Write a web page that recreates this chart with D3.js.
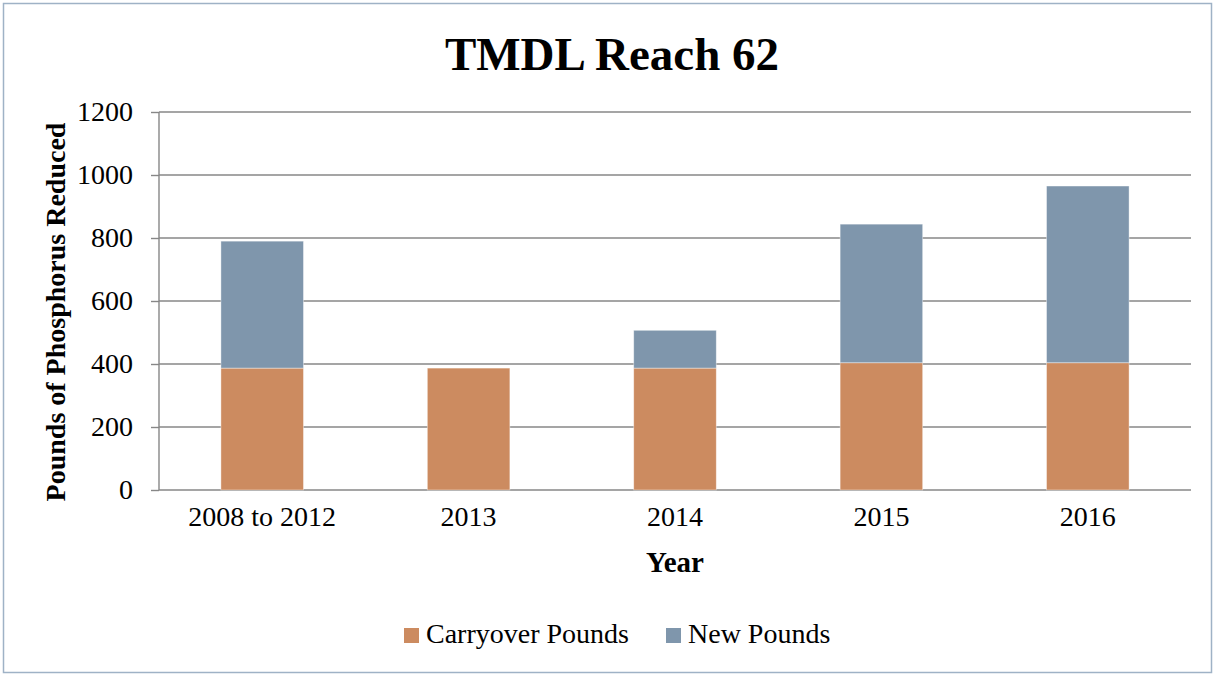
<!DOCTYPE html>
<html>
<head>
<meta charset="utf-8">
<script src="https://cdn.jsdelivr.net/npm/d3@7"></script>
<style>
  body { margin: 0; background: #fff; }
  svg text { font-family: "Liberation Serif", "DejaVu Serif", serif; fill: #000; }
</style>
</head>
<body>
<div id="chart"></div>
<script>
// data
const years = ["2008 to 2012", "2013", "2014", "2015", "2016"];
const carryover = [387, 387, 387, 404, 404];
const newPounds = [403, 0, 120, 440, 561];
const seriesNames = ["Carryover Pounds", "New Pounds"];
const yTicks = [0, 200, 400, 600, 800, 1000, 1200];

const colors = { "Carryover Pounds": "#cc8b60", "New Pounds": "#7f96ac" };

const W = 1215, H = 676;
const margin = { top: 112, right: 24, bottom: 186, left: 159 };
const width = W - margin.left - margin.right;
const height = H - margin.top - margin.bottom;

const svg = d3.select("#chart").append("svg")
    .attr("width", W)
    .attr("height", H);

// outer frame
svg.append("rect")
    .attr("x", 3.5).attr("y", 3.5)
    .attr("width", W - 7).attr("height", H - 7)
    .attr("fill", "#fff")
    .attr("stroke", "#9fb2c6")
    .attr("stroke-width", 1.5);

svg.append("text")
    .attr("x", 612).attr("y", 70)
    .attr("text-anchor", "middle")
    .style("font-size", "47px")
    .style("font-weight", "bold")
    .text("TMDL Reach 62");

const g = svg.append("g")
    .attr("transform", `translate(${margin.left}, ${margin.top})`);

const rows = years.map((y, i) => ({
    year: y,
    "Carryover Pounds": carryover[i],
    "New Pounds": newPounds[i]
}));

const x = d3.scaleBand()
    .domain(years)
    .range([0, width])
    .paddingInner(0.6)
    .paddingOuter(0.3);

const y = d3.scaleLinear()
    .domain([0, 1200])
    .range([height, 0]);

// y axis ticks and labels
const yAxis = g.append("g")
    .call(d3.axisLeft(y).tickValues(yTicks).tickFormat(d3.format("d")).tickSize(8).tickPadding(18));
yAxis.select(".domain").remove();
yAxis.selectAll(".tick line").attr("stroke", "#878787").attr("stroke-width", 1.4);
yAxis.selectAll(".tick text")
    .style("font-size", "28px")
    .style("font-family", "Liberation Serif, serif");

// gridlines
g.append("g")
    .selectAll("line")
    .data(yTicks)
    .join("line")
    .attr("x1", 0).attr("x2", width)
    .attr("y1", d => y(d)).attr("y2", d => y(d))
    .attr("stroke", "#878787")
    .attr("stroke-width", 1.4);

// stacked bars
const stack = d3.stack().keys(seriesNames)(rows);

g.append("g")
    .selectAll("g")
    .data(stack)
    .join("g")
    .attr("fill", d => colors[d.key])
    .selectAll("rect")
    .data(d => d.filter(p => p[1] - p[0] > 0))
    .join("rect")
    .attr("x", d => x(d.data.year))
    .attr("y", d => y(d[1]))
    .attr("width", x.bandwidth())
    .attr("height", d => y(d[0]) - y(d[1]))
    .attr("stroke", "#ffffff")
    .attr("stroke-opacity", 0.5)
    .attr("stroke-width", 0.8);

// y axis line
g.append("line")
    .attr("x1", 0).attr("x2", 0)
    .attr("y1", 0).attr("y2", height)
    .attr("stroke", "#878787")
    .attr("stroke-width", 1.4);

// x axis labels
const xAxis = g.append("g")
    .attr("transform", `translate(0, ${height})`)
    .call(d3.axisBottom(x).tickSize(0).tickPadding(16));
xAxis.select(".domain").remove();
xAxis.selectAll(".tick text")
    .style("font-size", "28px")
    .style("font-family", "Liberation Serif, serif");

g.append("text")
    .attr("x", width / 2)
    .attr("y", height + 82)
    .attr("text-anchor", "middle")
    .style("font-size", "29px")
    .style("font-weight", "bold")
    .text("Year");

svg.append("text")
    .attr("transform", `translate(65, 312) rotate(-90)`)
    .attr("text-anchor", "middle")
    .style("font-size", "28px")
    .style("font-weight", "bold")
    .text("Pounds of Phosphorus Reduced");

// legend
const legendX = [404, 666];
const legend = svg.append("g");
seriesNames.forEach((name, i) => {
    legend.append("rect")
        .attr("x", legendX[i]).attr("y", 628)
        .attr("width", 15).attr("height", 15)
        .attr("fill", colors[name]);
    legend.append("text")
        .attr("x", legendX[i] + 22).attr("y", 643)
        .style("font-size", "28px")
        .text(name);
});
</script>
</body>
</html>
